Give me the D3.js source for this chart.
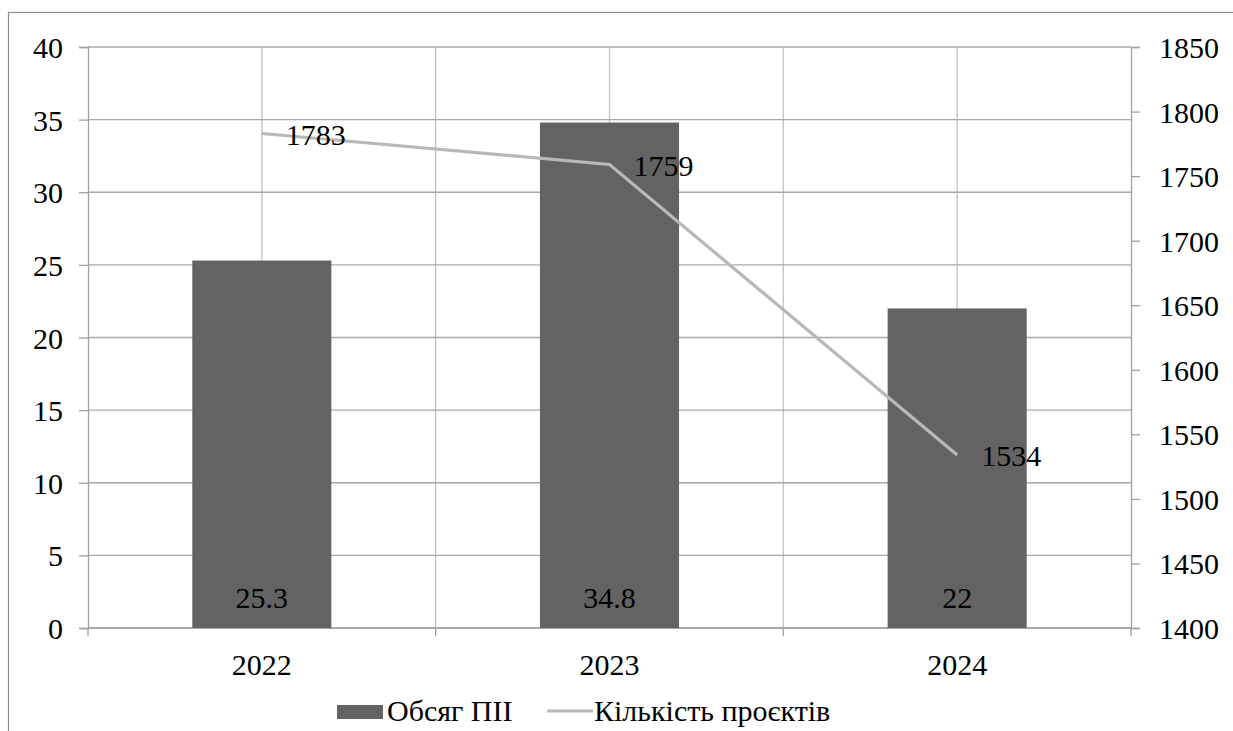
<!DOCTYPE html>
<html>
<head>
<meta charset="utf-8">
<script src="https://cdn.jsdelivr.net/npm/d3@7"></script>
</head>
<body style="margin:0">
<script>
// chart data
var years = ['2022', '2023', '2024'];
var investment = [25.3, 34.8, 22];      // Обсяг ПІІ (left axis)
var projects = [1783, 1759, 1534];      // Кількість проєктів (right axis)
var leftTicks = [0, 5, 10, 15, 20, 25, 30, 35, 40];
var rightTicks = [1400, 1450, 1500, 1550, 1600, 1650, 1700, 1750, 1800, 1850];
var legendLabels = ['Обсяг ПІІ', 'Кількість проєктів'];

var width = 1233,
    height = 731,
    fontSize = 30;

var plot = {left: 88, right: 1131, top: 47, bottom: 628};

var svg = d3.select('body').append('svg')
    .attr('width', width)
    .attr('height', height);

var serifText = function(sel) {
  sel.style('font-family', "'Liberation Serif'")
     .style('font-size', fontSize + 'px');
};

// outer chart border (clipped at right/bottom like the original)
svg.append('rect')
    .attr('x', 8.5).attr('y', 12.5)
    .attr('width', width).attr('height', height)
    .attr('fill', 'none')
    .attr('stroke', '#8c8c8c')
    .attr('stroke-width', 1.2);

var x = d3.scaleBand()
    .domain(years)
    .range([plot.left, plot.right]);

var yLeft = d3.scaleLinear()
    .domain([0, 40])
    .range([plot.bottom, plot.top]);

var yRight = d3.scaleLinear()
    .domain([1400, 1850])
    .range([plot.bottom, plot.top]);

var barWidth = x.bandwidth() * 0.4;
var center = function(d) { return x(d) + x.bandwidth() / 2; };

// vertical gridlines: category boundaries and centers
var boundaries = years.map(function(d) { return x(d); }).concat([plot.right]);
svg.append('g').selectAll('line')
    .data(boundaries.slice(1, -1).concat(years.map(center)))
  .enter().append('line')
    .attr('x1', function(d) { return d; })
    .attr('x2', function(d) { return d; })
    .attr('y1', plot.top)
    .attr('y2', plot.bottom)
    .attr('stroke', '#c4c4c4')
    .attr('stroke-width', 1.3);

// horizontal gridlines
svg.append('g').selectAll('line')
    .data(leftTicks)
  .enter().append('line')
    .attr('x1', plot.left)
    .attr('x2', plot.right)
    .attr('y1', function(d) { return yLeft(d); })
    .attr('y2', function(d) { return yLeft(d); })
    .attr('stroke', '#a8a8a8')
    .attr('stroke-width', 1.3);

// axes: keep d3 only for tick lines, draw tick texts ourselves
var styleAxis = function(g) {
  g.select('.domain').attr('stroke', '#a0a0a0').attr('stroke-width', 1.3);
  g.selectAll('.tick line').attr('stroke', '#a0a0a0').attr('stroke-width', 1.3);
  g.selectAll('.tick text').remove();
};

svg.append('g')
    .attr('transform', 'translate(' + plot.left + ',0)')
    .call(d3.axisLeft(yLeft).tickValues(leftTicks).tickSize(9))
    .call(styleAxis);

svg.append('g')
    .attr('transform', 'translate(' + plot.right + ',0)')
    .call(d3.axisRight(yRight).tickValues(rightTicks).tickSize(9))
    .call(styleAxis);

svg.selectAll('text.lt')
    .data(leftTicks)
  .enter().append('text')
    .attr('class', 'lt')
    .attr('x', plot.left - 25)
    .attr('y', function(d) { return yLeft(d) + 11; })
    .attr('text-anchor', 'end')
    .call(serifText)
    .text(function(d) { return d; });

svg.selectAll('text.rt')
    .data(rightTicks)
  .enter().append('text')
    .attr('class', 'rt')
    .attr('x', plot.right + 28)
    .attr('y', function(d) { return yRight(d) + 11; })
    .call(serifText)
    .text(function(d) { return d; });

// bottom axis line and boundary ticks
svg.append('line')
    .attr('x1', plot.left).attr('x2', plot.right)
    .attr('y1', plot.bottom).attr('y2', plot.bottom)
    .attr('stroke', '#a0a0a0').attr('stroke-width', 1.3);
svg.append('g').selectAll('line')
    .data(boundaries)
  .enter().append('line')
    .attr('x1', function(d) { return d; })
    .attr('x2', function(d) { return d; })
    .attr('y1', plot.bottom)
    .attr('y2', plot.bottom + 8)
    .attr('stroke', '#a0a0a0')
    .attr('stroke-width', 1.3);

svg.selectAll('text.yr')
    .data(years)
  .enter().append('text')
    .attr('class', 'yr')
    .attr('x', center)
    .attr('y', plot.bottom + 47)
    .attr('text-anchor', 'middle')
    .call(serifText)
    .text(function(d) { return d; });

// bars
svg.append('g').selectAll('rect')
    .data(investment)
  .enter().append('rect')
    .attr('x', function(d, i) { return center(years[i]) - barWidth / 2; })
    .attr('y', function(d) { return yLeft(d); })
    .attr('width', barWidth)
    .attr('height', function(d) { return yLeft(0) - yLeft(d); })
    .attr('fill', '#636363');

// bar labels (inside base)
svg.selectAll('text.bl')
    .data(investment)
  .enter().append('text')
    .attr('class', 'bl')
    .attr('x', function(d, i) { return center(years[i]); })
    .attr('y', plot.bottom - 20)
    .attr('text-anchor', 'middle')
    .call(serifText)
    .text(function(d) { return d; });

// line series
var line = d3.line()
    .x(function(d, i) { return center(years[i]); })
    .y(function(d) { return yRight(d); });

svg.append('path')
    .datum(projects)
    .attr('d', line)
    .attr('fill', 'none')
    .attr('stroke', '#b8b8b8')
    .attr('stroke-width', 3.2);

svg.selectAll('text.pl')
    .data(projects)
  .enter().append('text')
    .attr('class', 'pl')
    .attr('x', function(d, i) { return center(years[i]) + 24; })
    .attr('y', function(d) { return yRight(d) + 11.5; })
    .call(serifText)
    .text(function(d) { return d; });

// legend
svg.append('rect')
    .attr('x', 337).attr('y', 705)
    .attr('width', 46).attr('height', 14)
    .attr('fill', '#636363');
svg.append('line')
    .attr('x1', 547).attr('x2', 593)
    .attr('y1', 711).attr('y2', 711)
    .attr('stroke', '#b8b8b8')
    .attr('stroke-width', 3.2);
svg.selectAll('text.lg')
    .data(legendLabels)
  .enter().append('text')
    .attr('class', 'lg')
    .attr('x', function(d, i) { return i === 0 ? 387 : 594; })
    .attr('y', 721)
    .call(serifText)
    .text(function(d) { return d; });
</script>
</body>
</html>
